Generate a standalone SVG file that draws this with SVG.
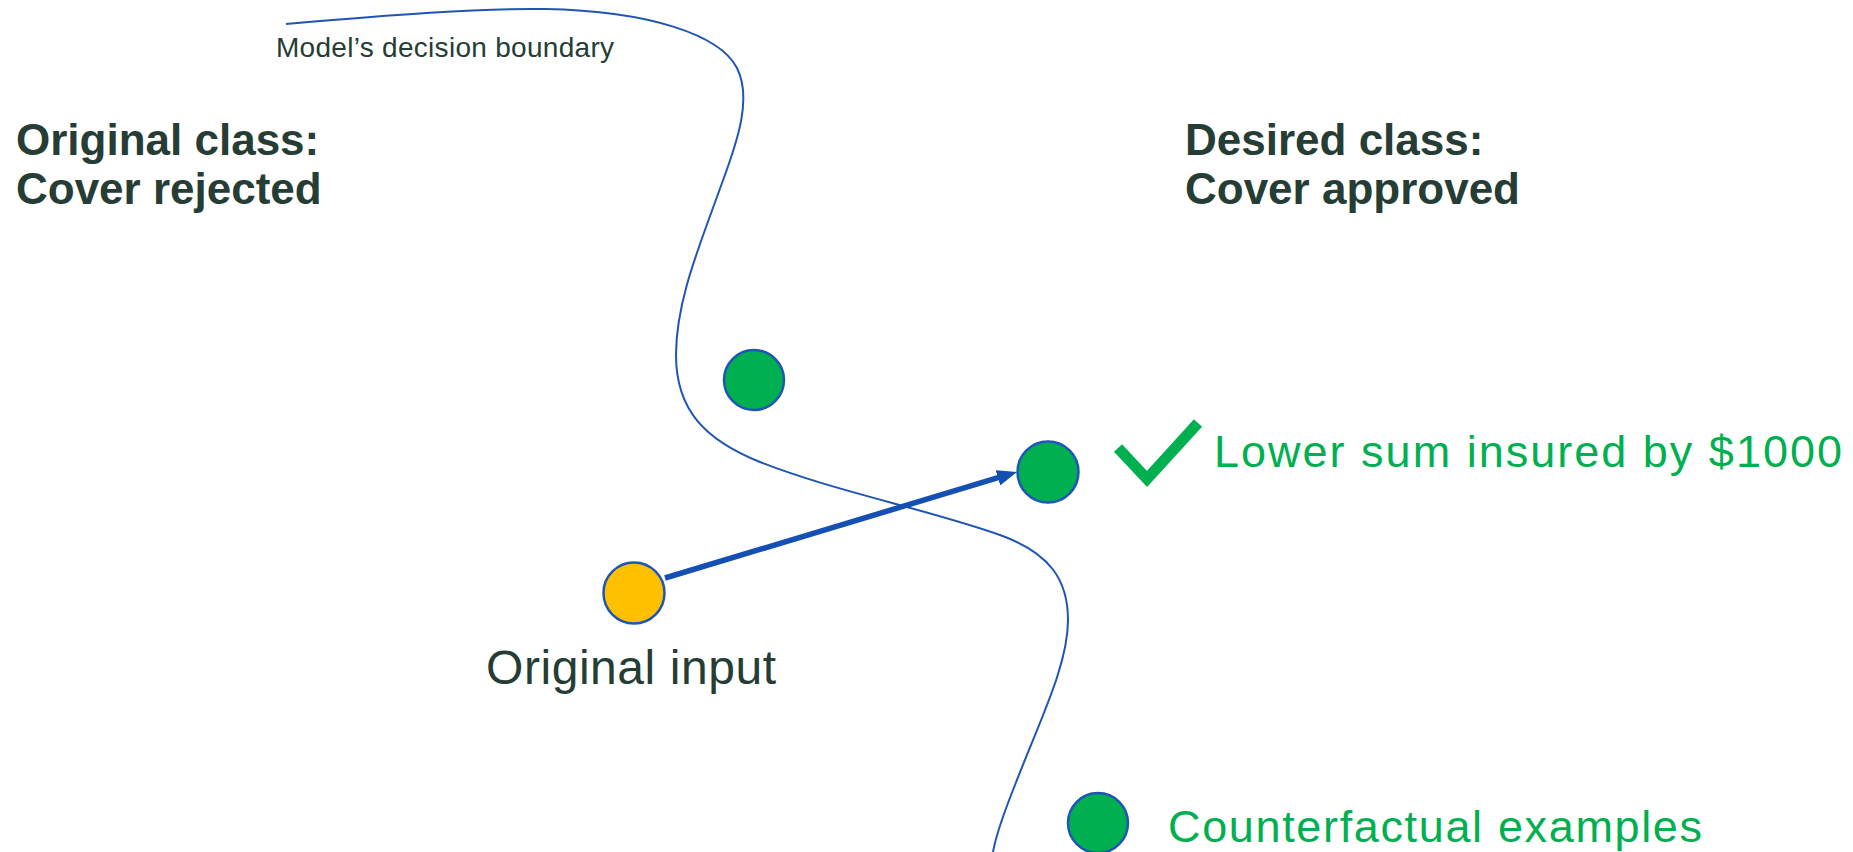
<svg xmlns="http://www.w3.org/2000/svg" width="1853" height="852" viewBox="0 0 1853 852">
  <style>
    .heading { font-family: "Liberation Sans", Arial, sans-serif; font-weight: bold; font-size: 44px; fill: #263d35; }
    .label { font-family: "Liberation Sans", Arial, sans-serif; fill: #263d35; }
    .green-label { font-family: "Liberation Sans", Arial, sans-serif; font-size: 45px; fill: #00b050; }
    .point { stroke: #1f55b5; stroke-width: 2.5; }
    .counterfactual { fill: #00b050; }
    .original { fill: #ffc000; }
    .boundary { fill: none; stroke: #1f55b5; stroke-width: 2; }
    .arrow { fill: none; stroke: #1450b4; stroke-width: 5.5; }
  </style>
  <defs>
    <marker id="arrowhead" viewBox="0 0 20 16" refX="2" refY="8" markerWidth="20" markerHeight="16" markerUnits="userSpaceOnUse" orient="auto">
      <path d="M0,0 L20,8 L0,16 z" fill="#1450b4"/>
    </marker>
  </defs>

  <rect width="1853" height="852" fill="#ffffff"/>

  <!-- decision boundary and the change arrow -->
  <g id="connectors">
    <path id="decision-boundary" class="boundary" d="M286,24 C390,15 480,8 545,9 C650,11 720,35 737,68 C752,98 738,140 722,183 C700,245 676,300 676,355 C676,410 705,440 760,462 C830,490 930,510 1000,535 C1050,553 1068,580 1068,620 C1068,665 1040,720 1015,785 C1003,815 996,835 993,852"/>
    <line id="arrow-input-to-cf" class="arrow" x1="665" y1="578" x2="999.8" y2="477.2" marker-end="url(#arrowhead)"/>
  </g>

  <g id="boundary-label">
    <text class="label" x="276" y="57" font-size="28" textLength="338">Model’s decision boundary</text>
  </g>

  <g id="original-class">
    <text class="heading" x="16" y="155">Original class:</text>
    <text class="heading" x="16" y="204">Cover rejected</text>
  </g>

  <g id="desired-class">
    <text class="heading" x="1185" y="155">Desired class:</text>
    <text class="heading" x="1185" y="204">Cover approved</text>
  </g>

  <g id="counterfactual-upper">
    <circle class="point counterfactual" cx="754" cy="380" r="30"/>
  </g>

  <g id="counterfactual-chosen">
    <circle class="point counterfactual" cx="1048" cy="472" r="30.5"/>
    <polyline points="1118,448 1147,479 1198,423" fill="none" stroke="#00b050" stroke-width="11"/>
    <text class="green-label" x="1214" y="467" textLength="628">Lower sum insured by $1000</text>
  </g>

  <g id="original-input">
    <circle class="point original" cx="634" cy="593" r="30.5"/>
    <text class="label" x="486" y="684" font-size="48" textLength="290">Original input</text>
  </g>

  <g id="legend-counterfactual">
    <circle class="point counterfactual" cx="1098" cy="823" r="30"/>
    <text class="green-label" x="1168" y="842" textLength="534">Counterfactual examples</text>
  </g>
</svg>
